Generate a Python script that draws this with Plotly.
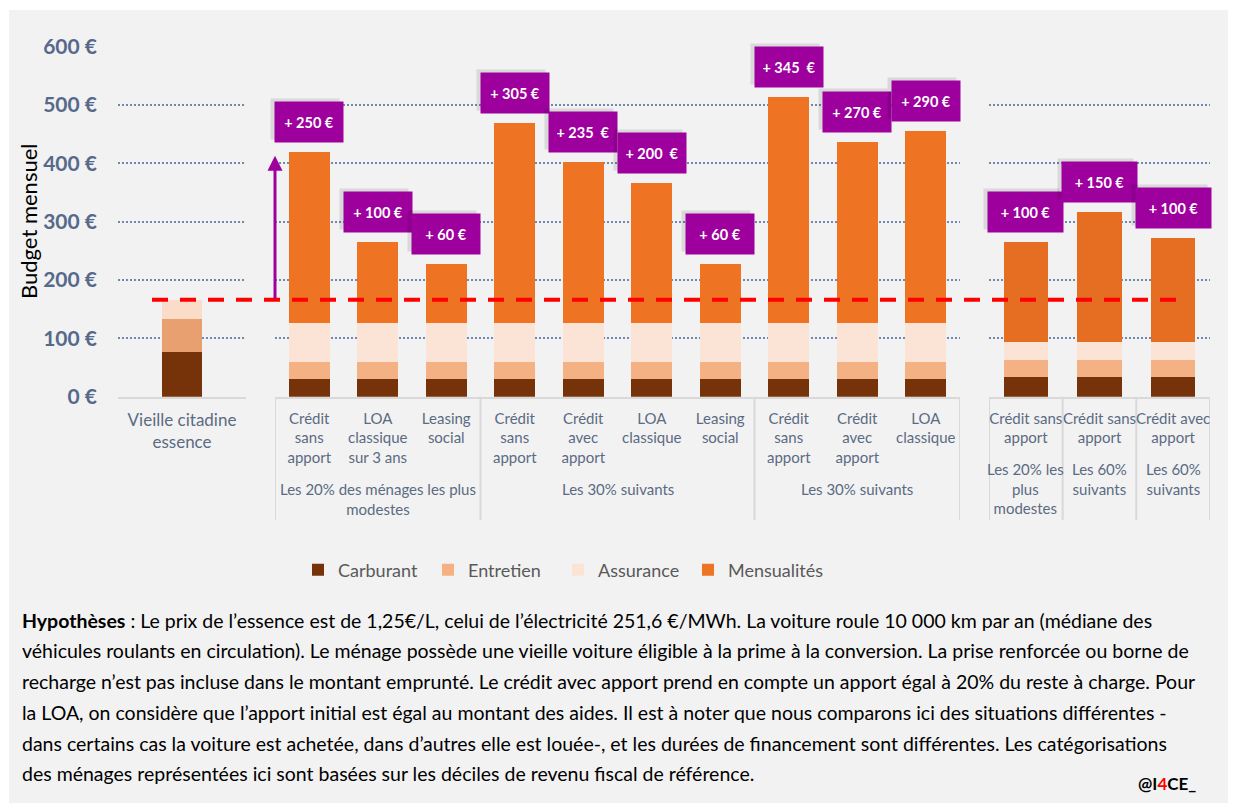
import plotly.graph_objects as go

# ---------------- data ----------------
old_categories = ["Vieille citadine<br>essence"]
old_carburant = [77]
old_entretien = [56]
old_assurance = [33]

ev_group_names = ["Les 20% des ménages les plus<br>modestes", "Les 30% suivants", "Les 30% suivants"]
ev_group_sizes = [3, 4, 3]
ev_options = ["Crédit<br>sans<br>apport", "LOA<br>classique<br>sur 3 ans", "Leasing<br>social",
              "Crédit<br>sans<br>apport", "Crédit<br>avec<br>apport", "LOA<br>classique", "Leasing<br>social",
              "Crédit<br>sans<br>apport", "Crédit<br>avec<br>apport", "LOA<br>classique"]
ev_carburant = [31, 31, 31, 31, 31, 31, 31, 31, 31, 31]
ev_entretien = [29, 29, 29, 29, 29, 29, 29, 29, 29, 29]
ev_assurance = [67, 67, 67, 67, 67, 67, 67, 67, 67, 67]
ev_mensualites = [292, 138, 100, 343, 275, 240, 100, 386, 309, 329]
ev_labels = ["+ 250 €", "+ 100 €", "+ 60 €", "+ 305 €", "+ 235\u00a0 €", "+ 200\u00a0 €", "+ 60 €",
             "+ 345\u00a0 €", "+ 270 €", "+ 290 €"]

b_group_names = ["Les 20% les<br>plus<br>modestes", "Les 60%<br>suivants", "Les 60%<br>suivants"]
b_group_sizes = [1, 1, 1]
b_options = ["Crédit sans<br>apport", "Crédit sans<br>apport", "Crédit avec<br>apport"]
b_carburant = [33, 33, 33]
b_entretien = [30, 30, 30]
b_assurance = [30, 30, 30]
b_mensualites = [172, 223, 179]
b_labels = ["+ 100 €", "+ 150 €", "+ 100 €"]

y_ticks = [0, 100, 200, 300, 400, 500, 600]
y_ticktext = ["0 €", "100 €", "200 €", "300 €", "400 €", "500 €", "600 €"]

series_names = ["Carburant", "Entretien", "Assurance", "Mensualités"]

footnote_lines = [
    "<b>Hypothèses</b> : Le prix de l’essence est de 1,25€/L, celui de l’électricité 251,6 €/MWh. La voiture roule 10 000 km par an (médiane des",
    "véhicules roulants en circulation). Le ménage possède une vieille voiture éligible à la prime à la conversion. La prise renforcée ou borne de",
    "recharge n’est pas incluse dans le montant emprunté. Le crédit avec apport prend en compte un apport égal à 20% du reste à charge. Pour",
    "la LOA, on considère que l’apport initial est égal au montant des aides. Il est à noter que nous comparons ici des situations différentes -",
    "dans certains cas la voiture est achetée, dans d’autres elle est louée-, et les durées de financement sont différentes. Les catégorisations",
    "des ménages représentées ici sont basées sur les déciles de revenu fiscal de référence.",
]

# ---------------- styles ----------------
OFF = 8  # page body margin
W, H = 1236 - OFF, 803 - OFF
FONT = "Lato"
C_CARB = "#76330A"
C_ENTR = "#F4B183"
C_ASSU = "#FBE4D6"
C_MENS = "#EE7424"
C_MENS_B = "#E56E22"
C_OLD_ENTR = "#E9A070"
C_OLD_ASSU = "#FADCC8"
PURPLE = "#9E009E"
TICK_COL = "#56698A"
CAT_COL = "#5B6B82"
GRID_COL = "#7088AC"
AXIS_LINE = "#D9D9D9"
CAT_SIZE = 15


def px(x):
    return (x - OFF) / W


def py(y):
    return 1 - (y - OFF) / H


ev_x = list(range(len(ev_options)))
b_x = list(range(len(b_options)))

fig = go.Figure()

colors_old = [C_CARB, C_OLD_ENTR, C_OLD_ASSU]
for name, vals, col in zip(series_names[:3], [old_carburant, old_entretien, old_assurance], colors_old):
    fig.add_trace(go.Bar(x=old_categories, y=vals, name=name, marker=dict(color=col, line=dict(width=0)),
                         width=0.32, showlegend=False, legendgroup=name, xaxis="x", yaxis="y"))

colors_ev = [C_CARB, C_ENTR, C_ASSU, C_MENS]
legends_ev = ["legend", "legend", "legend", "legend2"]
for name, vals, col, lg in zip(series_names, [ev_carburant, ev_entretien, ev_assurance, ev_mensualites],
                               colors_ev, legends_ev):
    fig.add_trace(go.Bar(x=ev_x, y=vals, name=name, marker=dict(color=col, line=dict(width=0)),
                         width=0.6, showlegend=True, legendgroup=name, legend=lg, xaxis="x2", yaxis="y2"))

colors_b = [C_CARB, C_ENTR, C_ASSU, C_MENS_B]
for name, vals, col in zip(series_names, [b_carburant, b_entretien, b_assurance, b_mensualites], colors_b):
    fig.add_trace(go.Bar(x=b_x, y=vals, name=name, marker=dict(color=col, line=dict(width=0)),
                         width=0.6, showlegend=False, legendgroup=name, xaxis="x3", yaxis="y3"))

ref_total = old_carburant[0] + old_entretien[0] + old_assurance[0]
ev_totals = [a + b + c + d for a, b, c, d in zip(ev_carburant, ev_entretien, ev_assurance, ev_mensualites)]
b_totals = [a + b + c + d for a, b, c, d in zip(b_carburant, b_entretien, b_assurance, b_mensualites)]

AXIS_Y = 396.7
ydom = [py(AXIS_Y), py(46.7)]
yaxis_common = dict(range=[0, 600], domain=ydom, showgrid=True, gridcolor=GRID_COL, gridwidth=1.5,
                    griddash="2px,2px", zeroline=False, tickvals=y_ticks, fixedrange=True)

xaxis_common = dict(showline=True, linecolor=AXIS_LINE, linewidth=2, showgrid=False, ticks="",
                    tickangle=0, ticklabelstandoff=7, zeroline=False,
                    tickfont=dict(family=FONT, size=CAT_SIZE, color=CAT_COL))

legend_common = dict(orientation="h", y=py(570), yanchor="middle", xanchor="left", traceorder="normal",
                     font=dict(family=FONT, size=18, color="#595959"), bgcolor="rgba(0,0,0,0)")

fig.update_layout(
    width=W, height=H,
    margin=dict(l=0, r=0, t=0, b=0, autoexpand=False),
    paper_bgcolor="white",
    plot_bgcolor="rgba(0,0,0,0)",
    barmode="stack",
    font=dict(family=FONT),
    xaxis=dict(domain=[px(118), px(246)], anchor="y", **{**xaxis_common,
               "tickfont": dict(family=FONT, size=17, color=CAT_COL)}),
    xaxis2=dict(domain=[px(275), px(960)], anchor="y2", range=[-0.5, len(ev_x) - 0.5],
                tickvals=ev_x, ticktext=ev_options, **xaxis_common),
    xaxis3=dict(domain=[px(989), px(1210)], anchor="y3", range=[-0.5, len(b_x) - 0.5],
                tickvals=b_x, ticktext=b_options, **xaxis_common),
    yaxis=dict(anchor="x", ticktext=y_ticktext, showticklabels=True, ticklabelstandoff=20,
               tickfont=dict(family=FONT, size=21, color=TICK_COL, weight="bold"), **yaxis_common),
    yaxis2=dict(anchor="x2", matches="y", showticklabels=False, **yaxis_common),
    yaxis3=dict(anchor="x3", matches="y", showticklabels=False, **yaxis_common),
    legend=dict(x=px(298), entrywidth=85, **legend_common),
    legend2=dict(x=px(298 + 3 * 130), **legend_common),
)

shapes = [
    dict(type="rect", xref="paper", yref="paper", x0=px(9), x1=1, y0=0, y1=py(10),
         fillcolor="#F2F2F2", line=dict(width=0), layer="below"),
]

annotations = []


def group_layout(xref, names, sizes, label_top):
    start = -0.5
    bounds = [start]
    for name, n in zip(names, sizes):
        end = start + n
        bounds.append(end)
        annotations.append(dict(text=name, xref=xref, yref="paper", x=(start + end) / 2, y=py(label_top),
                                xanchor="center", yanchor="top", showarrow=False,
                                font=dict(family=FONT, size=CAT_SIZE, color=CAT_COL)))
        start = end
    for bnd in bounds:
        shapes.append(dict(type="line", xref=xref, yref="paper", x0=bnd, x1=bnd, y0=py(AXIS_Y), y1=py(520),
                           line=dict(color=AXIS_LINE, width=2), layer="below"))


group_layout("x2", ev_group_names, ev_group_sizes, 478)
group_layout("x3", b_group_names, b_group_sizes, 458)

shapes.append(dict(type="line", xref="paper", yref="y", x0=px(152), x1=px(1178), y0=ref_total, y1=ref_total,
                   line=dict(color="#FF0000", width=4, dash="16px,12px"), layer="above"))
fig.update_layout(shapes=shapes)

# y-axis title
annotations.append(dict(text="Budget mensuel", xref="paper", yref="paper", x=px(29), y=py(222),
                        textangle=-90, showarrow=False, font=dict(family=FONT, size=22, color="black"),
                        xanchor="center", yanchor="middle"))
# arrow
annotations.append(dict(text="", xref="paper", yref="y", x=px(275), y=ev_totals[0] - 6,
                        axref="pixel", ayref="y", ax=0, ay=ref_total, showarrow=True,
                        arrowhead=2, arrowsize=1, arrowwidth=3, arrowcolor=PURPLE))


def add_boxes(xref, yref, totals, labels, width):
    for i, (t, lab) in enumerate(zip(totals, labels)):
        annotations.append(dict(text="", xref=xref, yref=yref, x=i, y=t, yshift=12, xshift=-4,
                                yanchor="bottom", showarrow=False, width=width, height=24, borderpad=8,
                                bgcolor="rgba(0,0,0,0.10)"))
        annotations.append(dict(text="<b>" + lab + "</b>", xref=xref, yref=yref, x=i, y=t, yshift=9,
                                yanchor="bottom", showarrow=False, width=width, height=24, borderpad=8,
                                bgcolor=PURPLE, font=dict(family=FONT, size=14.5, color="white")))


add_boxes("x2", "y2", ev_totals, ev_labels, 52)
add_boxes("x3", "y3", b_totals, b_labels, 59)

# footnote
line_y = [620, 650, 681, 712, 743, 773]
for ln, yy in zip(footnote_lines, line_y):
    annotations.append(dict(text=ln, xref="paper", yref="paper", x=px(20), y=py(yy), xanchor="left",
                            yanchor="middle", showarrow=False, font=dict(family=FONT, size=19.5, color="black")))
annotations.append(dict(text="<b>@I<span style='color:#FF0000'>4</span>CE_</b>", xref="paper", yref="paper",
                        x=px(1198), y=py(783), xanchor="right", yanchor="middle", showarrow=False,
                        font=dict(family=FONT, size=17, color="black")))

fig.update_layout(annotations=annotations)

fig.write_html("out.html")
